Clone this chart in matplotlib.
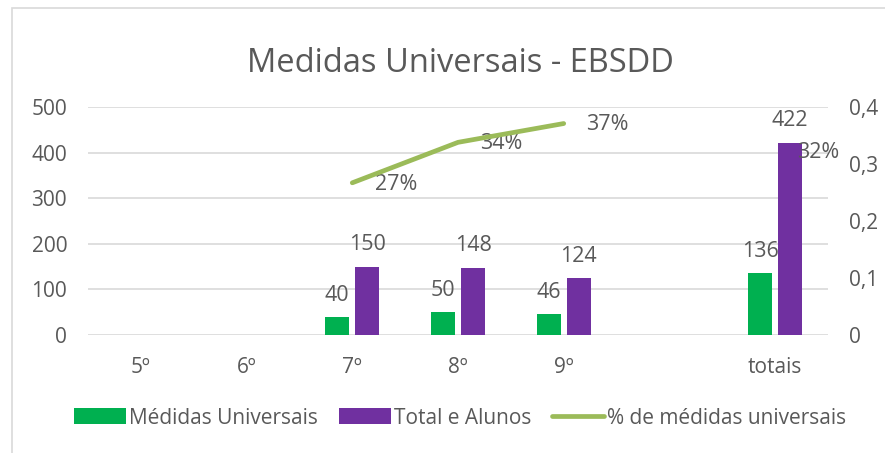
import matplotlib.pyplot as plt
import matplotlib.patches as mpatches
import numpy as np

plt.rcParams["font.family"] = ["Open Sans", "DejaVu Sans"]

# data
categories = ["5º", "6º", "7º", "8º", "9º", "", "totais"]
medidas = [np.nan, np.nan, 40, 50, 46, np.nan, 136]
total_alunos = [np.nan, np.nan, 150, 148, 124, np.nan, 422]
pct_medidas = [np.nan, np.nan, 0.267, 0.338, 0.371, np.nan, 0.322]
right_ticks = [0, 0.1, 0.2, 0.3, 0.4]
right_labels = ["0", "0,1", "0,2", "0,3", "0,4"]

GREEN = "#00B050"
PURPLE = "#7030A0"
OLIVE = "#9BBB59"
TEXT = "#595959"
GRID = "#D9D9D9"

fig = plt.figure(figsize=(8.85, 4.53), dpi=100)
W, H = 885, 453

# light chart frame (left and top edges visible)
fig.patches.append(mpatches.Rectangle((12 / W, -0.1), 1.2, (H - 8) / H + 0.1,
                                      transform=fig.transFigure, fill=False,
                                      edgecolor="#D9D9D9", linewidth=1.2))

ax = fig.add_axes([88 / W, 1 - 335 / H, 740 / W, 228 / H])
ax2 = ax.twinx()

x = np.arange(len(categories))
bw = 0.225
gap = 0.03
b1 = ax.bar(x - bw / 2 - gap, medidas, bw, color=GREEN, label="Médidas Universais", zorder=3)
b2 = ax.bar(x + bw / 2 + gap, total_alunos, bw, color=PURPLE, label="Total e Alunos", zorder=3)

for xs, vals in ((x - bw / 2 - gap, medidas), (x + bw / 2 + gap, total_alunos)):
    for xi, v in zip(xs, vals):
        if not np.isnan(v):
            ax.annotate(f"{v:.0f}", (xi, v), xytext=(0, 8), textcoords="offset points",
                        ha="center", va="bottom", fontsize=15.5, color=TEXT)

ln, = ax2.plot(x, pct_medidas, color=OLIVE, linewidth=3.4, solid_capstyle="round",
               label="% de médidas universais", zorder=4)
for xi, v in zip(x, pct_medidas):
    if not np.isnan(v):
        ax2.annotate(f"{v * 100:.0f}%", (xi, v), xytext=(16, -1), textcoords="offset points",
                     ha="left", va="center", fontsize=15.5, color=TEXT)

ax.set_xlim(-0.5, len(categories) - 0.5)
ax.set_ylim(0, 500)
ax.set_yticks(range(0, 501, 100))
ax2.set_ylim(0, 0.4)
ax2.set_yticks(right_ticks)
ax2.set_yticklabels(right_labels)
ax.set_xticks(x)
ax.set_xticklabels(categories)

ax.grid(axis="y", color=GRID, linewidth=1.2, zorder=0)
ax.set_axisbelow(True)
for a in (ax, ax2):
    for s in a.spines.values():
        s.set_visible(False)
    a.tick_params(length=0, labelsize=15, colors=TEXT)
ax.tick_params(axis="x", pad=16)
ax.tick_params(axis="y", pad=15)
ax2.tick_params(axis="y", pad=15)

fig.text(460 / W, 1 - 63 / H, "Medidas Universais - EBSDD", ha="center", va="center",
         fontsize=23.5, color=TEXT)

leg = fig.legend(handles=[b1, b2, ln], loc="center", bbox_to_anchor=(460 / W, 1 - 418 / H),
                 ncol=3, frameon=False, fontsize=15, handlelength=2.5, handleheight=0.8,
                 columnspacing=1.0, handletextpad=0.15, labelcolor=TEXT)

fig.savefig("out.png", dpi=100)
